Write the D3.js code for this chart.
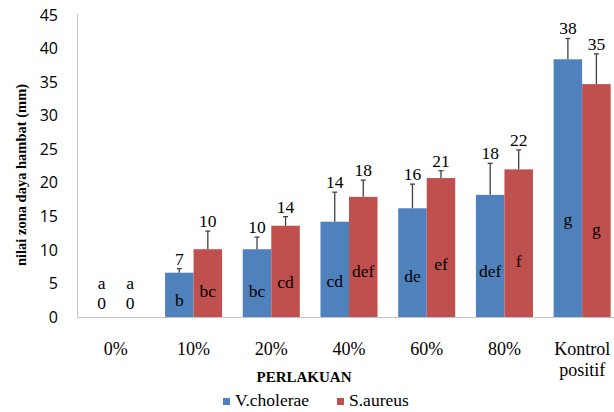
<!DOCTYPE html>
<html>
<head>
<meta charset="utf-8">
<script src="https://cdn.jsdelivr.net/npm/d3@7"></script>
<style>
  html, body { margin: 0; padding: 0; background: #fff; }
  svg { display: block; }
</style>
</head>
<body>
<svg id="chart" width="614" height="412" font-family="Liberation Serif"></svg>
<script>
// Treatment groups and the two test bacteria
const categories = ["0%", "10%", "20%", "40%", "60%", "80%", "Kontrol positif"];
const seriesNames = ["V.cholerae", "S.aureus"];

// Mean inhibition zone (mm)
const vCholerae = [0, 6.6, 10.1, 14.2, 16.2, 18.2, 38.4];
const sAureus   = [0, 10.1, 13.6, 17.9, 20.7, 22.0, 34.7];

// Standard deviation (upper error bar)
const vCholeraeErr = [0, 0.6, 1.8, 4.4, 3.6, 4.7, 3.1];
const sAureusErr   = [0, 2.7, 1.35, 2.5, 1.1, 2.9, 4.5];

// Significance letters
const vCholeraeSig = ["a", "b", "bc", "cd", "de", "def", "g"];
const sAureusSig   = ["a", "bc", "cd", "def", "ef", "f", "g"];

const yTicks = [0, 5, 10, 15, 20, 25, 30, 35, 40, 45];

const colors = ["#4F81BD", "#C0504D"];
const SERIF = "Liberation Serif";
const SANS = "Open Sans";

const values = [vCholerae, sAureus];
const errs = [vCholeraeErr, sAureusErr];
const sigs = [vCholeraeSig, sAureusSig];

const rows = [];
categories.forEach((c, i) => {
  seriesNames.forEach((s, j) => {
    rows.push({ cat: c, series: s, si: j, value: values[j][i], err: errs[j][i], sig: sigs[j][i] });
  });
});

const svg = d3.select("#chart");

const x0 = d3.scaleBand().domain(categories).range([77, 621])
  .paddingInner(0.266).paddingOuter(0.133);
const x1 = d3.scaleBand().domain(seriesNames).range([0, x0.bandwidth()]);
const y = d3.scaleLinear().domain([0, 45]).range([317, 15]);

// Axis lines
svg.append("line").attr("x1", 77.5).attr("x2", 77.5).attr("y1", 14).attr("y2", 317)
  .attr("stroke", "#c4c4c4").attr("stroke-width", 1);
svg.append("line").attr("x1", 77).attr("x2", 614).attr("y1", 317.5).attr("y2", 317.5)
  .attr("stroke", "#c4c4c4").attr("stroke-width", 1);

// Y tick labels
const yAxis = d3.axisLeft(y).tickValues(yTicks).tickSize(0).tickPadding(19);
const yg = svg.append("g").attr("transform", "translate(77,0)").call(yAxis);
yg.select(".domain").remove();
yg.attr("font-family", SANS).attr("font-size", 16);
yg.selectAll("text").attr("fill", "#000");

// Y axis title
svg.append("text")
  .attr("transform", "translate(21,175) rotate(-90)")
  .attr("text-anchor", "middle").attr("dominant-baseline", "central")
  .attr("font-family", SERIF).attr("font-weight", "bold").attr("font-size", 14.5)
  .text("nilai zona daya hambat (mm)");

// Bars
const bx = d => x0(d.cat) + x1(d.series);
const bw = x1.bandwidth();

svg.append("g").selectAll("rect").data(rows.filter(d => d.value > 0)).join("rect")
  .attr("x", bx).attr("width", bw)
  .attr("y", d => y(d.value)).attr("height", d => y(0) - y(d.value))
  .attr("fill", d => colors[d.si]);

// Error bars (upper only)
const eg = svg.append("g").attr("stroke", "#404040").attr("stroke-width", 1.3);
rows.filter(d => d.err > 0).forEach(d => {
  const cx = bx(d) + bw / 2;
  eg.append("line").attr("x1", cx).attr("x2", cx).attr("y1", y(d.value)).attr("y2", y(d.value + d.err));
  eg.append("line").attr("x1", cx - 2.5).attr("x2", cx + 2.5).attr("y1", y(d.value + d.err)).attr("y2", y(d.value + d.err));
});

// Value labels above error bars
svg.append("g").selectAll("text").data(rows).join("text")
  .attr("x", d => bx(d) + bw / 2)
  .attr("y", d => d.value > 0 ? y(d.value + d.err) - 4 : y(0) - 8)
  .attr("text-anchor", "middle")
  .attr("font-family", SERIF).attr("font-size", 17.5).attr("fill", "#000")
  .text(d => Math.round(d.value));

// Significance letters
svg.append("g").selectAll("text").data(rows).join("text")
  .attr("x", d => bx(d) + bw / 2)
  .attr("y", d => d.value > 0 ? y(d.value * 0.38) + 6 : y(0) - 28)
  .attr("text-anchor", "middle")
  .attr("font-family", SERIF).attr("font-size", 17.5).attr("fill", "#000")
  .text(d => d.sig);

// Category labels
const xg = svg.append("g");
categories.forEach(c => {
  const words = c.split(" ");
  const t = xg.append("text")
    .attr("x", x0(c) + x0.bandwidth() / 2).attr("y", 355)
    .attr("text-anchor", "middle")
    .attr("font-family", SERIF).attr("font-size", 18).attr("fill", "#000");
  words.forEach((w, k) => {
    t.append("tspan").attr("x", x0(c) + x0.bandwidth() / 2).attr("dy", k === 0 ? 0 : 21).text(w);
  });
});

// X axis title
svg.append("text").attr("x", 304).attr("y", 382)
  .attr("text-anchor", "middle")
  .attr("font-family", SERIF).attr("font-weight", "bold").attr("font-size", 15)
  .text("PERLAKUAN");

// Legend
const legendX = [223, 337];
seriesNames.forEach((s, j) => {
  svg.append("rect").attr("x", legendX[j]).attr("y", 398).attr("width", 7).attr("height", 7)
    .attr("fill", colors[j]);
  svg.append("text").attr("x", legendX[j] + 12).attr("y", 406)
    .attr("font-family", SERIF).attr("font-size", 17.5).attr("fill", "#000")
    .text(s);
});
</script>
</body>
</html>
